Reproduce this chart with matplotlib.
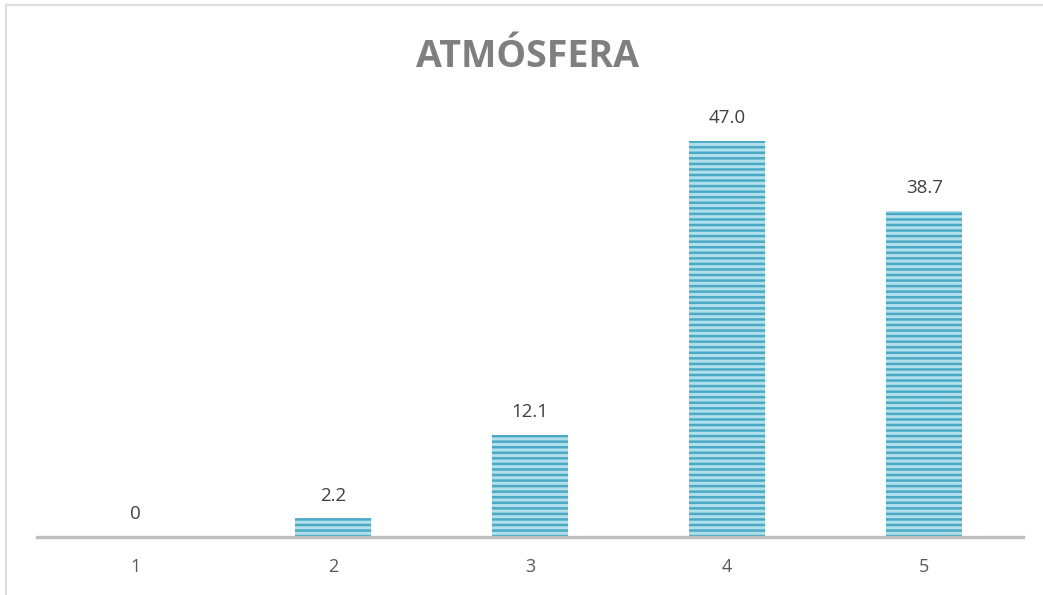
import matplotlib
matplotlib.use("Agg")
import matplotlib.pyplot as plt
from matplotlib.patches import Rectangle

categories = ["1", "2", "3", "4", "5"]
values = [0, 2.2, 12.1, 47.0, 38.7]
labels = ["0", "2.2", "12.1", "47.0", "38.7"]
title = "ATMÓSFERA"

plt.rcParams["hatch.linewidth"] = 1.8
W, H = 1043, 595
fig = plt.figure(figsize=(W / 100, H / 100), dpi=100)

# chart border (partially visible)
fig.patches.append(Rectangle((5.5 / W, -0.1), 1.2, 1 - 5.5 / H + 0.1, transform=fig.transFigure,
                             fill=False, edgecolor="#dedede", linewidth=1.6))

left, right = 37, 1023
bottom = 537
top = 115.5
ax = fig.add_axes([left / W, 1 - bottom / H, (right - left) / W, (bottom - top) / H])
x = list(range(1, len(categories) + 1))
bars = ax.bar(x, values, width=0.386, color="#b0dfeb", edgecolor="#4aaac5",
              hatch="---", linewidth=0)
for b in bars:
    b.set_edgecolor("#4aaac5")
ax.set_xlim(0.5, 5.5)
ax.set_ylim(0, 50)
ax.set_xticks(x)
ax.set_xticklabels(categories, fontsize=13, color="#595959", family="Open Sans")
ax.tick_params(axis="x", length=0, pad=15)
ax.set_yticks([])
for s in ["left", "right", "top"]:
    ax.spines[s].set_visible(False)
ax.spines["bottom"].set_color("#bfbfbf")
ax.spines["bottom"].set_linewidth(2.4)
ax.patch.set_visible(False)

for xi, v, lab in zip(x, values, labels):
    ax.annotate(lab, (xi, v), xytext=(0, 10), textcoords="offset points",
                ha="center", va="bottom", fontsize=13.5, color="#404040", family="Open Sans")

fig.text(528 / W, 1 - 57 / H, title, ha="center", va="center", fontsize=27,
         fontweight="bold", color="#7f7f7f", family="Open Sans")

fig.savefig("out.png", dpi=100)
